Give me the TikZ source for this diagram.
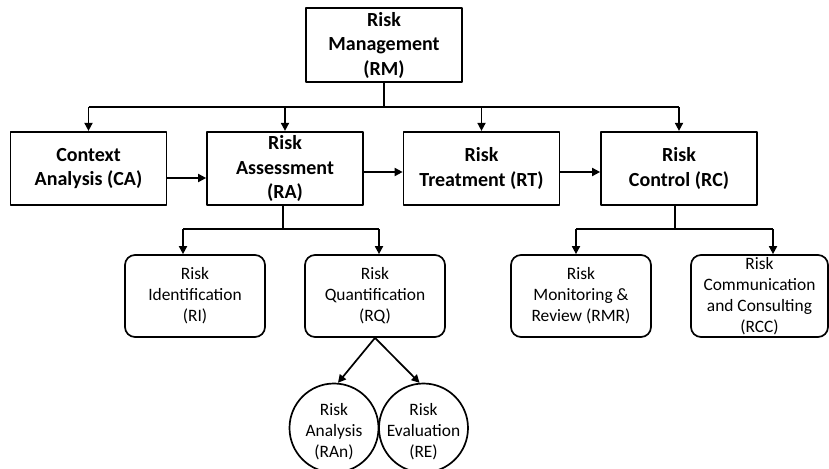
\documentclass[tikz,border=0pt]{standalone}
\usepackage{fontspec}
\setmainfont{Carlito}
\usetikzlibrary{arrows.meta}

\begin{document}
\begin{tikzpicture}[x=1pt,y=-1pt,>={Triangle[length=8pt,width=8pt]},line join=round,line width=1.7pt,
	mainbox/.style={draw,rectangle,inner sep=0pt,minimum width=156pt,minimum height=73.5pt,align=center,font=\bfseries\fontsize{20}{24.5}\selectfont},
	subbox/.style={draw,rectangle,rounded corners=10pt,inner sep=0pt,minimum width=140pt,minimum height=82pt,align=center,font=\fontsize{17.4}{21}\selectfont},
	subcirc/.style={draw,circle,inner sep=0pt,minimum size=89pt},
	circtext/.style={inner sep=0pt,align=center,font=\fontsize{17.4}{21}\selectfont}]
	\clip (0,0) rectangle (829,468);
	% top level
	\node[mainbox] (RM) at (384,45) {Risk\\Management\\(RM)};
	\node[mainbox] (CA) at (88.5,168.5) {Context\\Analysis (CA)};
	\node[mainbox] (RA) at (285,168.5) {Risk\\Assessment\\(RA)};
	\node[mainbox] (RT) at (481.5,168.5) {Risk\\Treatment (RT)};
	\node[mainbox] (RC) at (679,168.5) {Risk\\Control (RC)};
	% sub steps
	\node[subbox] (RI) at (195,296) {Risk\\Identification\\(RI)};
	\node[subbox] (RQ) at (375,296) {Risk\\Quantification\\(RQ)};
	\node[subbox] (RMR) at (581,296) {Risk\\Monitoring \&\\Review (RMR)};
	\node[subbox,minimum width=137pt] (RCC) at (759.5,296) {Risk\\Communication\\and Consulting\\(RCC)};
	\node[subcirc] (RAn) at (334,428) {};
	\node[subcirc] (RE) at (423.5,428) {};
	\node[circtext] (RAnText) at ([yshift=-4pt]RAn.center) {Risk\\Analysis\\(RAn)};
	\node[circtext] (REText) at ([yshift=-4pt]RE.center) {Risk\\Evaluation\\(RE)};
	% connectors
	\coordinate (bus) at (384,107);
	\draw (RM.south) -- (bus);
	\draw (bus -| CA.north) -- (bus -| RC.north);
	\foreach \n in {CA,RA,RT,RC}
		\draw[->] (bus -| \n.north) -- (\n.north);
	\draw[->] ([yshift=-9.5pt]CA.east) -- ([yshift=-9.5pt]RA.west);
	\draw[->] ([yshift=-3.5pt]RA.east) -- ([yshift=-3.5pt]RT.west);
	\draw[->] ([yshift=-3.5pt]RT.east) -- ([yshift=-3.5pt]RC.west);
	\coordinate (raFork) at (283,229);
	\coordinate (riIn) at (183,229);
	\coordinate (rqIn) at (379,229);
	\draw (RA.south -| raFork) -- (raFork);
	\draw (riIn) -- (rqIn);
	\draw[->] (riIn) -- (riIn |- RI.north);
	\draw[->] (rqIn) -- (rqIn |- RQ.north);
	\coordinate (rcFork) at (675,229);
	\coordinate (rmrIn) at (576,229);
	\coordinate (rccIn) at (773,229);
	\draw (RC.south -| rcFork) -- (rcFork);
	\draw (rmrIn) -- (rccIn);
	\draw[->] (rmrIn) -- (rmrIn |- RMR.north);
	\draw[->] (rccIn) -- (rccIn |- RCC.north);
	\draw[->] (RQ.south) -- (RAn.85);
	\draw[->] (RQ.south) -- (RE.95);
\end{tikzpicture}
\end{document}
